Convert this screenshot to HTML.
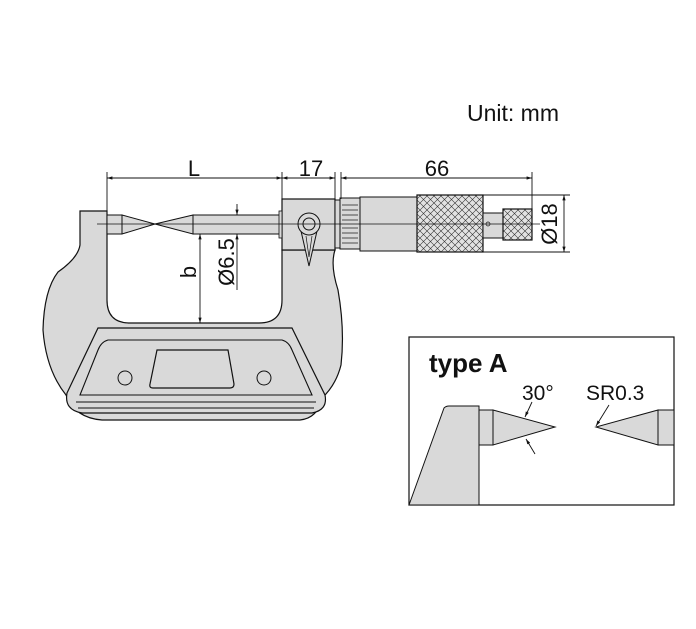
<!DOCTYPE html>
<html><head><meta charset="utf-8"><style>
html,body{margin:0;padding:0;background:#fff;}
svg{display:block;}
text{font-family:"Liberation Sans",Arial,sans-serif;fill:#111;}
</style></head><body>
<svg width="696" height="629" viewBox="0 0 696 629" xmlns="http://www.w3.org/2000/svg">
<defs>
<pattern id="kn" width="7" height="7" patternUnits="userSpaceOnUse">
<rect width="7" height="7" fill="#e2e2e2"/>
<path d="M0 0L7 7M7 0L0 7" stroke="#333" stroke-width="0.6"/>
</pattern>
<marker id="ar" viewBox="0 0 10 10" refX="10" refY="5" markerWidth="6" markerHeight="6" orient="auto-start-reverse"><path d="M0 2L10 5L0 8z" fill="#111"/></marker>
</defs>
<text x="467" y="121" font-size="23">Unit: mm</text>

<!-- frame -->
<path d="M80 211 L107 211 L107 300 Q107 323 130 323 L259 323 Q282 323 282 300 L282 250 L335 250 Q330 265 338 290 Q345 330 341 365 Q336 385 322 398 Q318 418 300 420 L102 420 Q75 418 66 395 Q46 370 43 330 Q44 290 58 272 Q78 258 80 245 Z" fill="#d9d9d9" stroke="#111" stroke-width="1.2"/>
<rect x="282" y="199" width="53" height="51" fill="#d9d9d9" stroke="#111" stroke-width="1.2"/>
<!-- bottom panel -->
<path d="M98 328 L292 328 L325 395 Q328 410 312 413 L82 413 Q64 410 67 393 Z" fill="#d9d9d9" stroke="#111" stroke-width="1.2"/>
<path d="M108 340 L282 340 Q289 342 292 350 L312 395 L80 395 L98 350 Q101 342 108 340 Z" fill="none" stroke="#111" stroke-width="1.1"/>
<line x1="76" y1="402" x2="316" y2="402" stroke="#111" stroke-width="1"/>
<line x1="78" y1="408" x2="314" y2="408" stroke="#111" stroke-width="1"/>
<path d="M157 350 L228 350 L234 384 Q234 388 230 388 L153 388 Q149 388 150 384 Z" fill="#d9d9d9" stroke="#111" stroke-width="1.2"/>
<circle cx="125" cy="378" r="7" fill="none" stroke="#111"/>
<circle cx="264" cy="378" r="7" fill="none" stroke="#111"/>

<!-- anvil & spindle -->
<rect x="107" y="215" width="15" height="19" fill="#d9d9d9" stroke="#111"/>
<path d="M122 215 L155 224 L122 234 Z" fill="#d9d9d9" stroke="#111"/>
<path d="M193 215 L155 224 L193 234 Z" fill="#d9d9d9" stroke="#111"/>
<rect x="193" y="215" width="89" height="19" fill="#d9d9d9" stroke="#111"/>
<rect x="279" y="211" width="3" height="27" fill="#d9d9d9" stroke="#111" stroke-width="0.8"/>
<!-- lock -->
<path d="M301 231 L309 266 L317 231" fill="#d9d9d9" stroke="#111"/>
<path d="M306 236 L309 257 L312 236" fill="none" stroke="#111" stroke-width="0.7"/>
<circle cx="309" cy="224" r="11" fill="#d9d9d9" stroke="#111"/>
<circle cx="309" cy="224" r="6" fill="none" stroke="#111"/>

<!-- micrometer head -->
<rect x="335" y="200" width="6" height="48" fill="#d9d9d9" stroke="#111"/>
<rect x="340" y="198" width="20" height="51" fill="#d9d9d9" stroke="#111"/>
<g stroke="#111" stroke-width="0.7">
<line x1="342" y1="205" x2="358" y2="205"/><line x1="342" y1="210" x2="358" y2="210"/><line x1="342" y1="215" x2="358" y2="215"/><line x1="342" y1="220" x2="358" y2="220"/><line x1="342" y1="228" x2="358" y2="228"/><line x1="342" y1="233" x2="358" y2="233"/><line x1="342" y1="238" x2="358" y2="238"/><line x1="342" y1="243" x2="358" y2="243"/>
</g>
<rect x="360" y="197" width="57" height="54" fill="#d9d9d9" stroke="#111"/>
<rect x="417" y="195" width="66" height="57" fill="url(#kn)" stroke="#111" stroke-width="1.2"/>
<rect x="483" y="213" width="20" height="25" fill="#d9d9d9" stroke="#111"/>
<circle cx="488" cy="224" r="2" fill="none" stroke="#111" stroke-width="0.7"/>
<rect x="503" y="209" width="29" height="31" fill="url(#kn)" stroke="#111" stroke-width="1.2"/>

<line x1="97" y1="224" x2="540" y2="224" stroke="#111" stroke-width="0.8"/>

<!-- dimensions -->
<g stroke="#111" stroke-width="0.9" fill="none">
<line x1="107" y1="172" x2="107" y2="211"/>
<line x1="282" y1="172" x2="282" y2="199"/>
<line x1="335" y1="172" x2="335" y2="199"/>
<line x1="341" y1="172" x2="341" y2="199"/>
<line x1="532" y1="172" x2="532" y2="209"/>
<line x1="107" y1="178" x2="282" y2="178" marker-start="url(#ar)" marker-end="url(#ar)"/>
<line x1="282" y1="178" x2="335" y2="178" marker-start="url(#ar)" marker-end="url(#ar)"/>
<line x1="341" y1="178" x2="532" y2="178" marker-start="url(#ar)" marker-end="url(#ar)"/>
<line x1="483" y1="195" x2="570" y2="195"/>
<line x1="483" y1="252" x2="570" y2="252"/>
<line x1="564" y1="195" x2="564" y2="252" marker-start="url(#ar)" marker-end="url(#ar)"/>
<line x1="237" y1="204" x2="237" y2="215" marker-end="url(#ar)"/>
<line x1="237" y1="290" x2="237" y2="234" marker-end="url(#ar)"/>
<line x1="200" y1="234" x2="200" y2="323" marker-start="url(#ar)" marker-end="url(#ar)"/>
</g>
<text x="194" y="176" font-size="22" text-anchor="middle">L</text>
<text x="311" y="176" font-size="22" text-anchor="middle">17</text>
<text x="437" y="176" font-size="22" text-anchor="middle">66</text>
<text transform="translate(557 224) rotate(-90)" font-size="22" text-anchor="middle">Ø18</text>
<text transform="translate(234 262) rotate(-90)" font-size="22" text-anchor="middle">Ø6.5</text>
<text transform="translate(196 272) rotate(-90)" font-size="22" text-anchor="middle">b</text>

<!-- type A box -->
<rect x="409" y="337" width="265" height="168" fill="#fff" stroke="#111" stroke-width="1.2"/>
<text x="429" y="372" font-size="26" font-weight="bold">type A</text>
<path d="M409 505 L444 408 Q446 406 449 406 L479 406 L479 505 Z" fill="#d9d9d9" stroke="#111"/>
<rect x="479" y="410" width="14" height="35" fill="#d9d9d9" stroke="#111"/>
<path d="M493 410 L555 427 L493 445 Z" fill="#d9d9d9" stroke="#111"/>
<path d="M658 410 L596 427 L658 445 Z" fill="#d9d9d9" stroke="#111"/>
<rect x="658" y="410" width="16" height="35" fill="#d9d9d9" stroke="#111"/>
<text x="522" y="400" font-size="21">30°</text>
<text x="586" y="400" font-size="21">SR0.3</text>
<g stroke="#111" stroke-width="0.9">
<line x1="532" y1="402" x2="525" y2="417" marker-end="url(#ar)"/>
<line x1="535" y1="454" x2="526" y2="439" marker-end="url(#ar)"/>
<line x1="609" y1="405" x2="596" y2="426" marker-end="url(#ar)"/>
</g>
</svg>
</body></html>
